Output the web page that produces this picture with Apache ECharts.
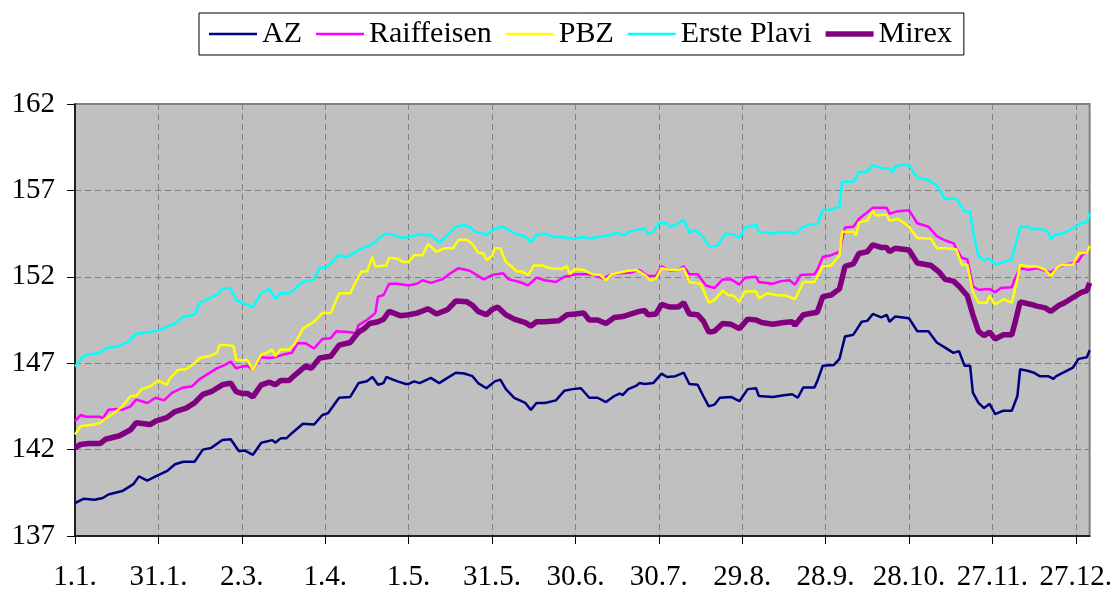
<!DOCTYPE html>
<html>
<head>
<meta charset="utf-8">
<title>Fond chart</title>
<script src="https://cdn.jsdelivr.net/npm/echarts@6/dist/echarts.min.js"></script>
<style>
  html, body { margin: 0; padding: 0; background: #fff; }
  #chart { width: 1115px; height: 592px; }
</style>
</head>
<body>
<div id="chart"></div>
<script>
// x = day of year (0 = 1.1.), y = value
const xLabels = ['1.1.', '31.1.', '2.3.', '1.4.', '1.5.', '31.5.', '30.6.', '30.7.', '29.8.', '28.9.', '28.10.', '27.11.', '27.12.'];

const azData = [[0,138.9],[3,139.15],[7,139.1],[10,139.2],[12,139.4],[17,139.6],[21,140.0],[23,140.45],[26,140.2],[29,140.45],[33,140.75],[36,141.15],[39,141.3],[43,141.3],[46,142.0],[49,142.1],[53,142.55],[56,142.6],[59,141.9],[61,141.95],[64,141.7],[67,142.4],[71,142.55],[72,142.4],[74,142.65],[76,142.65],[78,142.95],[82,143.5],[86,143.45],[89,144.0],[91,144.1],[95,145.0],[99,145.05],[102,145.85],[105,145.95],[107,146.2],[109,145.75],[111,145.85],[112,146.2],[116,145.95],[119,145.8],[120,145.8],[122,145.95],[124,145.85],[128,146.15],[131,145.85],[134,146.15],[137,146.45],[140,146.4],[143,146.25],[145,145.85],[148,145.55],[151,145.95],[153,146.05],[155,145.5],[158,145.0],[162,144.7],[164,144.3],[166,144.7],[169,144.7],[173,144.85],[176,145.4],[179,145.5],[182,145.55],[185,145.0],[188,145.0],[191,144.75],[194,145.1],[196,145.25],[197,145.15],[199,145.5],[202,145.7],[203,145.85],[205,145.8],[208,145.85],[211,146.4],[213,146.2],[216,146.25],[219,146.45],[221,145.8],[224,145.75],[226,145.1],[228,144.5],[230,144.6],[232,145.0],[236,145.05],[239,144.8],[242,145.5],[245,145.55],[246,145.1],[251,145.05],[255,145.15],[258,145.2],[260,145.0],[262,145.6],[266,145.6],[267,145.95],[269,146.85],[273,146.9],[275,147.25],[277,148.55],[280,148.65],[283,149.4],[285,149.45],[287,149.85],[290,149.65],[292,149.8],[293,149.4],[295,149.7],[300,149.6],[303,148.85],[307,148.85],[310,148.2],[313,147.9],[316,147.6],[318,147.7],[320,146.85],[322,146.85],[323,145.3],[325,144.7],[327,144.4],[329,144.65],[331,144.05],[334,144.25],[337,144.25],[339,145.1],[340,146.65],[343,146.55],[345,146.45],[347,146.25],[350,146.25],[352,146.1],[353,146.25],[356,146.5],[359,146.75],[361,147.25],[364,147.35],[365,147.75]];

const raiffeisenData = [[0,143.65],[2,144.0],[4,143.9],[9,143.9],[10,143.8],[12,144.3],[15,144.35],[17,144.3],[20,144.5],[22,144.9],[26,144.7],[29,145.0],[32,144.85],[35,145.3],[39,145.6],[42,145.65],[45,146.1],[48,146.4],[51,146.7],[54,146.9],[56,147.1],[58,146.7],[60,146.8],[62,146.85],[64,146.6],[67,147.35],[70,147.3],[72,147.35],[75,147.5],[78,147.6],[80,148.15],[83,148.15],[86,147.85],[89,148.4],[92,148.45],[94,148.85],[98,148.8],[101,148.75],[102,149.2],[105,149.5],[108,149.9],[109,150.85],[111,150.95],[113,151.6],[116,151.6],[120,151.5],[123,151.6],[125,151.8],[128,151.65],[132,151.85],[135,152.2],[138,152.5],[142,152.35],[145,152.05],[147,151.85],[150,152.1],[154,152.2],[156,151.85],[160,151.7],[163,151.5],[166,151.95],[169,151.8],[173,151.7],[176,152.0],[180,152.15],[184,152.15],[187,152.1],[190,151.9],[193,152.15],[196,152.2],[200,152.25],[203,152.4],[206,152.05],[209,152.05],[211,152.6],[214,152.35],[217,152.4],[219,152.6],[221,152.15],[224,152.15],[227,151.5],[230,151.35],[233,151.85],[236,151.85],[239,151.55],[241,151.95],[245,152.0],[246,151.7],[251,151.6],[254,151.75],[257,151.8],[259,151.55],[261,152.1],[266,152.15],[267,152.4],[269,153.15],[272,153.25],[275,153.45],[277,154.85],[280,154.9],[282,155.35],[284,155.6],[287,156.0],[290,156.0],[292,156.0],[293,155.65],[296,155.8],[300,155.85],[303,155.1],[307,154.9],[310,154.35],[313,154.1],[316,153.95],[317,153.65],[319,153.1],[321,153.0],[323,151.45],[325,151.25],[329,151.3],[331,151.1],[333,151.35],[337,151.4],[338,151.85],[340,152.5],[343,152.4],[346,152.5],[349,152.35],[351,152.25],[353,152.5],[355,152.65],[359,152.8],[361,152.9],[362,153.2],[365,153.6]];

const pbzData = [[0,142.87],[2,143.35],[7,143.45],[9,143.55],[11,143.8],[14,144.1],[17,144.5],[20,145.1],[22,145.1],[24,145.5],[27,145.65],[30,146.0],[33,145.75],[34,146.1],[37,146.6],[40,146.65],[43,147.0],[45,147.3],[48,147.4],[51,147.6],[52,148.05],[54,148.05],[57,148.0],[58,147.2],[60,147.15],[62,147.2],[64,146.6],[67,147.5],[69,147.6],[71,147.8],[72,147.4],[74,147.8],[77,147.8],[79,148.1],[82,149.0],[84,149.2],[86,149.4],[89,149.9],[92,149.9],[95,151.05],[99,151.05],[101,151.7],[103,152.3],[105,152.3],[107,153.15],[108,152.6],[112,152.65],[113,153.1],[116,153.05],[118,152.85],[120,152.85],[122,153.25],[125,153.25],[127,153.9],[130,153.45],[133,153.65],[136,153.65],[138,154.15],[141,154.15],[143,153.9],[145,153.4],[147,153.35],[148,152.95],[150,153.2],[151,153.65],[153,153.65],[155,152.85],[157,152.6],[159,152.3],[161,152.3],[163,152.1],[165,152.65],[168,152.65],[171,152.5],[175,152.45],[177,152.6],[178,152.15],[180,152.45],[183,152.4],[186,152.15],[189,152.1],[191,151.8],[193,152.15],[196,152.25],[199,152.35],[202,152.4],[205,152.1],[207,151.8],[209,151.9],[211,152.5],[214,152.4],[217,152.4],[219,152.5],[221,151.7],[225,151.6],[226,151.25],[228,150.5],[230,150.65],[233,151.2],[235,150.95],[237,150.9],[239,150.55],[241,151.15],[245,151.15],[246,150.75],[249,151.05],[252,150.95],[256,150.9],[259,150.7],[262,151.7],[266,151.7],[267,152.0],[269,152.6],[272,152.65],[275,153.25],[276,154.6],[280,154.6],[281,154.4],[282,155.15],[285,155.25],[287,155.85],[288,155.55],[292,155.6],[293,155.25],[296,155.35],[298,155.15],[300,154.9],[303,154.25],[308,154.2],[310,153.65],[313,153.65],[317,153.6],[319,152.7],[321,152.7],[323,151.1],[325,150.5],[328,150.5],[329,150.9],[331,150.4],[334,150.7],[337,150.5],[339,151.85],[340,152.7],[343,152.6],[346,152.6],[349,152.4],[351,152.05],[353,152.5],[355,152.7],[359,152.7],[361,153.35],[364,153.4],[365,153.8]];

const ersteData = [[0,146.8],[3,147.4],[5,147.5],[9,147.6],[11,147.85],[16,148.0],[19,148.25],[22,148.7],[27,148.8],[30,148.9],[33,149.1],[36,149.3],[39,149.7],[43,149.8],[45,150.5],[47,150.65],[51,150.95],[53,151.3],[56,151.35],[58,150.65],[60,150.5],[64,150.25],[67,151.05],[70,151.3],[72,150.75],[74,151.05],[77,151.05],[79,151.3],[82,151.7],[86,151.85],[88,152.5],[91,152.6],[95,153.25],[98,153.15],[102,153.55],[105,153.75],[108,154.0],[109,154.2],[112,154.5],[115,154.4],[118,154.25],[121,154.35],[124,154.45],[128,154.4],[131,154.0],[134,154.4],[137,154.9],[140,155.0],[142,154.9],[144,154.6],[147,154.5],[148,154.4],[151,154.8],[154,154.9],[156,154.7],[159,154.45],[162,154.35],[164,154.0],[166,154.4],[169,154.5],[172,154.3],[175,154.3],[179,154.2],[183,154.3],[185,154.2],[188,154.3],[192,154.4],[195,154.55],[198,154.4],[199,154.6],[202,154.7],[205,154.8],[206,154.5],[208,154.6],[210,155.1],[213,155.1],[214,154.9],[216,155.0],[219,155.3],[221,154.55],[223,154.7],[226,154.3],[228,153.75],[231,153.8],[234,154.5],[237,154.45],[239,154.25],[241,154.85],[245,155.0],[246,154.6],[251,154.5],[255,154.6],[259,154.5],[262,154.9],[264,155.0],[267,155.05],[269,155.85],[272,155.9],[275,156.05],[276,157.5],[280,157.5],[282,158.05],[285,158.1],[287,158.45],[290,158.3],[293,158.25],[294,158.05],[295,158.4],[298,158.5],[300,158.45],[303,157.75],[307,157.6],[310,157.3],[313,156.5],[315,156.55],[317,156.5],[320,155.8],[322,155.75],[323,154.65],[325,153.2],[327,152.95],[329,153.05],[331,152.7],[334,152.85],[337,153.0],[338,153.65],[340,154.9],[343,154.9],[344,154.75],[347,154.8],[350,154.6],[351,154.2],[353,154.45],[356,154.55],[359,154.8],[362,155.1],[364,155.15],[365,155.7]];

const mirexData = [[0,142.1],[2,142.3],[5,142.35],[9,142.35],[11,142.6],[16,142.8],[20,143.15],[22,143.55],[27,143.45],[29,143.65],[33,143.85],[36,144.2],[40,144.4],[43,144.7],[46,145.2],[49,145.35],[53,145.75],[56,145.85],[58,145.35],[60,145.25],[62,145.25],[64,145.05],[67,145.75],[70,145.9],[72,145.75],[74,146.0],[77,146.0],[79,146.3],[83,146.85],[85,146.7],[88,147.3],[92,147.4],[95,148.05],[99,148.2],[102,148.8],[104,149.0],[106,149.3],[109,149.4],[111,149.55],[113,150.0],[117,149.75],[120,149.8],[123,149.9],[127,150.15],[130,149.85],[134,150.1],[137,150.6],[141,150.55],[143,150.35],[145,150.0],[148,149.8],[150,150.1],[152,150.25],[155,149.8],[158,149.55],[162,149.35],[164,149.15],[166,149.4],[169,149.4],[174,149.45],[177,149.8],[180,149.85],[183,149.9],[185,149.5],[188,149.5],[191,149.3],[194,149.65],[197,149.7],[199,149.8],[203,150.0],[205,150.05],[206,149.8],[209,149.85],[211,150.4],[214,150.25],[217,150.25],[219,150.5],[221,149.85],[224,149.8],[226,149.45],[228,148.8],[230,148.85],[233,149.3],[236,149.25],[239,149.0],[242,149.55],[245,149.5],[247,149.35],[251,149.25],[255,149.35],[258,149.4],[259,149.2],[262,149.8],[267,149.95],[269,150.85],[272,150.95],[275,151.3],[277,152.6],[280,152.75],[282,153.35],[285,153.45],[287,153.85],[290,153.7],[292,153.7],[293,153.45],[295,153.65],[300,153.55],[303,152.8],[308,152.65],[311,152.25],[313,151.85],[316,151.75],[318,151.45],[321,150.9],[323,149.8],[325,148.85],[327,148.6],[329,148.8],[331,148.4],[334,148.65],[337,148.65],[338,149.25],[340,150.55],[344,150.4],[346,150.3],[349,150.2],[351,150.0],[354,150.35],[356,150.5],[359,150.8],[362,151.1],[364,151.2],[365,151.65]];

const FONT = '"Liberation Serif", "Times New Roman", serif';

// legend line icons: a bar of the given thickness centred in a 48x14 box
function barIcon(thick) {
    const a = (14 - thick) / 2, b = a + thick;
    return 'path://M0,0L0.01,0M0,' + a + 'H48V' + b + 'H0ZM0,14L0.01,14';
}

function line(name, data, color, width) {
    return {
        name: name,
        type: 'line',
        data: data,
        symbol: 'none',
        showSymbol: false,
        lineStyle: { color: color, width: width },
        itemStyle: { color: color }
    };
}

const tickDays = xLabels.map((l, i) => i * 30);

const chart = echarts.init(document.getElementById('chart'));
chart.setOption({
    animation: false,
    backgroundColor: '#fff',
    textStyle: { fontFamily: FONT },
    legend: {
        left: 199,
        top: 13,
        itemWidth: 48,
        itemHeight: 14,
        itemGap: 14,
        padding: [6, 12, 6, 10],
        borderColor: '#000',
        borderWidth: 1,
        textStyle: { fontFamily: FONT, fontSize: 30, color: '#000' },
        data: [
            { name: 'AZ', icon: barIcon(2.5) },
            { name: 'Raiffeisen', icon: barIcon(2.5) },
            { name: 'PBZ', icon: barIcon(2.5) },
            { name: 'Erste Plavi', icon: barIcon(2.5) },
            { name: 'Mirex', icon: barIcon(5.5) }
        ]
    },
    grid: {
        left: 75,
        right: 23,
        top: 104,
        bottom: 55,
        show: true,
        backgroundColor: '#c0c0c0',
        borderColor: '#808080',
        borderWidth: 2
    },
    xAxis: {
        type: 'value',
        min: 0,
        max: 365,
        interval: 30,
        axisLine: { lineStyle: { color: '#000', width: 1.5 } },
        axisTick: { length: 8, customValues: tickDays, lineStyle: { color: '#000' } },
        axisLabel: {
            margin: 27,
            fontFamily: FONT,
            fontSize: 29,
            color: '#000',
            customValues: tickDays,
            formatter: function (v) {
                return xLabels[Math.round(v / 30)] || '';
            }
        },
        splitLine: { show: true, lineStyle: { color: '#808080', type: [6, 4] } }
    },
    yAxis: {
        type: 'value',
        min: 137,
        max: 162,
        interval: 5,
        axisLine: { show: true, lineStyle: { color: '#000', width: 1.5 } },
        axisTick: { show: true, length: 8, lineStyle: { color: '#000' } },
        axisLabel: { margin: 20, fontFamily: FONT, fontSize: 29, color: '#000' },
        splitLine: { show: true, lineStyle: { color: '#808080', type: [6, 4] } }
    },
    series: [
        line('AZ', azData, '#000080', 2.5),
        line('Raiffeisen', raiffeisenData, '#ff00ff', 2.5),
        line('PBZ', pbzData, '#ffff00', 2.5),
        line('Erste Plavi', ersteData, '#00ffff', 2.5),
        line('Mirex', mirexData, '#800080', 5.5)
    ]
});
</script>
</body>
</html>
